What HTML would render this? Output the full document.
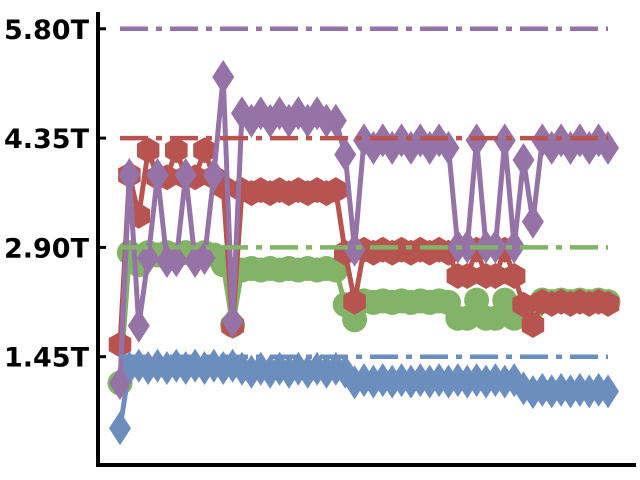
<!DOCTYPE html>
<html><head><meta charset="utf-8"><style>
html,body{margin:0;padding:0;background:#fff;width:640px;height:480px;overflow:hidden}
svg{display:block}
text{font-family:"DejaVu Sans","Liberation Sans",sans-serif;font-weight:bold;font-size:27px;fill:#000}
</style></head><body>
<svg id="chart" width="640" height="480" xmlns="http://www.w3.org/2000/svg">
<g id="plot"></g>
<g id="axes">
<line x1="98" y1="12" x2="98" y2="467" stroke="#000" stroke-width="4"/>
<line x1="96" y1="465" x2="636" y2="465" stroke="#000" stroke-width="4"/>
</g>
</svg>
<script>
const tickValues = [1.45, 2.90, 4.35, 5.80];
const tickLabels = ["1.45T", "2.90T", "4.35T", "5.80T"];
const purpleVals = [1.10,3.86,1.86,2.76,3.86,2.72,2.73,3.86,2.72,2.76,3.86,5.16,1.92,4.68,4.58,4.68,4.58,4.68,4.58,4.68,4.58,4.68,4.58,4.58,4.13,2.87,4.32,4.22,4.32,4.22,4.32,4.22,4.32,4.22,4.32,4.22,2.91,2.91,4.32,2.91,2.91,4.32,2.91,4.06,3.24,4.32,4.22,4.32,4.22,4.32,4.22,4.32,4.22];
const redVals = [1.61,3.86,3.32,4.19,3.83,3.83,4.19,3.83,3.83,4.19,3.83,3.70,1.86,3.66,3.62,3.66,3.62,3.66,3.62,3.66,3.62,3.66,3.62,3.66,2.83,2.18,2.87,2.83,2.87,2.83,2.87,2.83,2.87,2.83,2.87,2.83,2.52,2.52,2.87,2.52,2.52,2.87,2.52,2.14,1.87,2.18,2.15,2.18,2.15,2.18,2.15,2.18,2.15];
const greenVals = [1.10,2.83,2.67,2.83,2.80,2.83,2.80,2.83,2.80,2.83,2.80,2.67,1.87,2.60,2.62,2.60,2.62,2.60,2.62,2.60,2.62,2.60,2.62,2.60,2.14,1.94,2.19,2.17,2.19,2.17,2.19,2.17,2.19,2.17,2.19,2.17,1.96,1.96,2.20,1.96,1.96,2.20,1.96,2.07,2.10,2.20,2.18,2.20,2.18,2.20,2.18,2.20,2.18];
const blueVals = [0.50,1.30,1.33,1.30,1.33,1.30,1.33,1.30,1.33,1.30,1.33,1.30,1.33,1.29,1.25,1.29,1.25,1.29,1.25,1.29,1.25,1.29,1.25,1.29,1.25,1.11,1.14,1.12,1.14,1.12,1.14,1.12,1.14,1.12,1.14,1.12,1.14,1.12,1.14,1.12,1.14,1.12,1.14,1.03,0.98,1.01,0.99,1.01,0.99,1.01,0.99,1.01,0.99];
const refVals = [5.80, 4.35, 2.90, 1.45];

const NS = "http://www.w3.org/2000/svg";
const plot = document.getElementById('plot');
const axes = document.getElementById('axes');
function yS(v){ return 466 - v * (109.3/1.45); }
function xS(i, n){ return 120 + i * (488/(n-1)); }
function mk(tag, attrs, parent){ const e=document.createElementNS(NS,tag); for(const k in attrs) e.setAttribute(k,attrs[k]); parent.appendChild(e); return e; }

tickValues.forEach((v,i)=>{
  const y=yS(v);
  const t=mk('line',{x1:96,x2:106,y1:y,y2:y,stroke:'#000','stroke-width':3},axes);
  
  
  const tx=mk('text',{x:89,y:y+10,'text-anchor':'end'},axes);
  tx.textContent=tickLabels[i];
  
  
});

function marker(shape, x, y, color, g){
  let e;
  if(shape==='circle') e=mk('circle',{cx:x,cy:y,r:12.5,fill:color},g);
  else if(shape==='diamond') e=mk('polygon',{points:`${x},${y-17} ${x+11},${y} ${x},${y+17} ${x-11},${y}`,fill:color},g);
  else { const r=13; let p=[]; for(let k=0;k<6;k++){const a=Math.PI/180*(60*k+90); p.push((x+r*Math.cos(a)).toFixed(1)+','+(y+r*Math.sin(a)).toFixed(1));} e=mk('polygon',{points:p.join(' '),fill:color},g); }
  return e;
}
function series(vals, color, shape, name){
  const g=mk('g',{},plot);
  
  
  const n=vals.length;
  const pts=vals.map((v,i)=>xS(i,n).toFixed(1)+','+yS(v).toFixed(1)).join(' ');
  const l=mk('polyline',{points:pts,fill:'none',stroke:color,'stroke-width':5,'stroke-linejoin':'round'},g);
  
  
  vals.forEach((v,i)=>{
    const m=marker(shape,xS(i,n),yS(v),color,g);
    
    
  });
}
series(greenVals,'#82b366','circle','green-series');
series(redVals,'#b85450','hexagon','red-series');
series(blueVals,'#6c8ebf','diamond','blue-series');
series(purpleVals,'#9673a6','diamond','purple-series');

const refColors=['#9673a6','#b85450','#82b366','#6c8ebf'];
refVals.forEach((v,i)=>{
  const y=yS(v);
  const l=mk('line',{x1:120,x2:608,y1:y,y2:y,stroke:refColors[i],'stroke-width':4.5,'stroke-dasharray':'28 8 6 8'},plot);
  
  
});
</script>
</body></html>
